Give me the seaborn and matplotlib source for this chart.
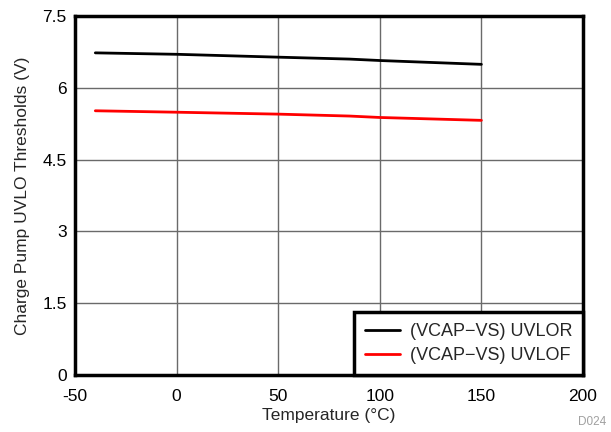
import matplotlib
matplotlib.use("Agg")
import matplotlib.pyplot as plt
import seaborn as sns
import pandas as pd

temps = [-40, 0, 25, 50, 85, 100, 125, 150]
uvlor = [6.73, 6.70, 6.67, 6.64, 6.60, 6.57, 6.53, 6.49]
uvlof = [5.52, 5.49, 5.47, 5.45, 5.41, 5.38, 5.35, 5.32]
series_names = ["(VCAP\u2212VS) UVLOR", "(VCAP\u2212VS) UVLOF"]
colors = ["#000000", "#ff0000"]
xticks = [-50, 0, 50, 100, 150, 200]
yticks = [0, 1.5, 3, 4.5, 6, 7.5]
ytick_labels = ["0", "1.5", "3", "4.5", "6", "7.5"]

df = pd.DataFrame({
    "Temperature": temps * 2,
    "Value": uvlor + uvlof,
    "Series": [series_names[0]] * len(temps) + [series_names[1]] * len(temps),
})

sns.set_style("white")
plt.rcParams["font.family"] = ["Liberation Sans", "DejaVu Sans"]

fig = plt.figure(figsize=(6.11, 4.32), dpi=100)
ax = fig.add_axes([75 / 611, (432 - 375) / 432, (583 - 75) / 611, (375 - 16) / 432])

sns.lineplot(data=df, x="Temperature", y="Value", hue="Series",
             palette=colors, linewidth=2, ax=ax, legend=True)

ax.set_xlim(-50, 200)
ax.set_ylim(0, 7.5)
ax.set_xticks(xticks)
ax.set_xticklabels([str(t) for t in xticks])
ax.set_yticks(yticks)
ax.set_yticklabels(ytick_labels)
ax.grid(True, color="#6a6a6a", linewidth=1)
ax.set_axisbelow(True)
for s in ax.spines.values():
    s.set_color("black")
    s.set_linewidth(2.5)
ax.tick_params(axis="x", length=0, labelsize=12.5, colors="black", pad=10)
ax.tick_params(axis="y", length=0, labelsize=12.5, colors="black", pad=6)
ax.set_xlabel("Temperature (\u00b0C)", fontsize=12.5, labelpad=3)
ax.set_ylabel("Charge Pump UVLO Thresholds (V)", fontsize=12.5, labelpad=9)

leg = ax.legend(loc="lower right", fontsize=13, frameon=True, fancybox=False,
                framealpha=1, borderaxespad=0, handlelength=1.95,
                borderpad=0.6, labelspacing=0.4, handletextpad=0.55)
leg.get_frame().set_edgecolor("black")
leg.get_frame().set_linewidth(2.5)
leg.set_title(None)

fig.text(606 / 611, 4 / 432, "D024", fontsize=8.5, color="#a0a0a0", ha="right", va="bottom")

fig.savefig("out.png", dpi=100)
